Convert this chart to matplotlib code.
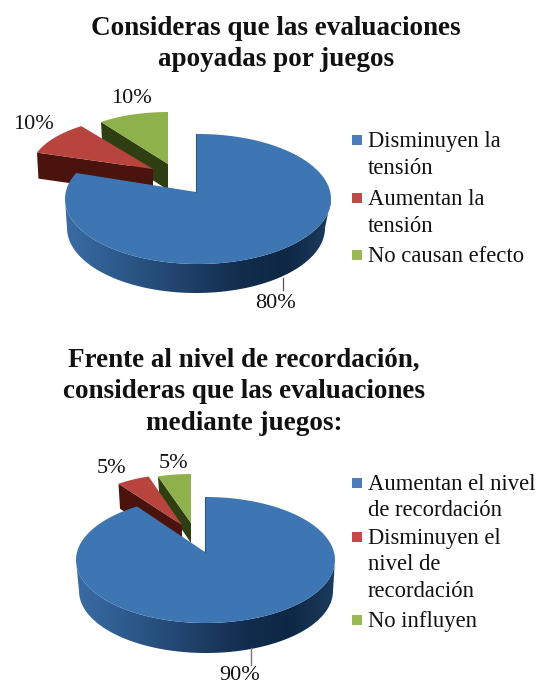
import numpy as np
import matplotlib
matplotlib.use("Agg")
import matplotlib.pyplot as plt
from matplotlib.colors import LinearSegmentedColormap
from matplotlib.patches import Polygon, Rectangle

plt.rcParams['font.family'] = ['Liberation Serif', 'DejaVu Serif']

# ---- data ----
title_a = ["Consideras que las evaluaciones", "apoyadas por juegos"]
categories_a = ["Disminuyen la\ntensión", "Aumentan la\ntensión", "No causan efecto"]
values_a = [80, 10, 10]

title_b = ["Frente al nivel de recordación,", "consideras que las evaluaciones", "mediante juegos:"]
categories_b = ["Aumentan el nivel\nde recordación", "Disminuyen el\nnivel de\nrecordación", "No influyen"]
values_b = [90, 5, 5]

# ---- style / layout ----
TOP = ['#3e76b4', '#b8443e', '#8fb14b']
SIDE = ['#1b3a60', '#4a130e', '#303f12']
LEG = ['#4a7ebb', '#be4b48', '#98b954']
GRAD = LinearSegmentedColormap.from_list(
    'g', ['#3a6ca3', '#2f5d90', '#264d7a', '#1c3c62', '#122c4d', '#0e2745', '#1c3c5e'])

W, H = 537, 685
fig = plt.figure(figsize=(W / 100, H / 100), dpi=100)
ax = fig.add_axes([0, 0, 1, 1])
ax.set_axis_off()


def main_arc(tip, c, rx, ry, a0, a1):
    out = []
    for t in np.linspace(a0, a1, 240):
        dx, dy = rx * np.sin(t), -ry * np.cos(t)
        ox, oy = tip[0] - c[0], tip[1] - c[1]
        A = (dx / rx) ** 2 + (dy / ry) ** 2
        B = 2 * (ox * dx / rx ** 2 + oy * dy / ry ** 2)
        C = (ox / rx) ** 2 + (oy / ry) ** 2 - 1
        s = (-B + np.sqrt(B * B - 4 * A * C)) / (2 * A)
        out.append((tip[0] + s * dx, tip[1] + s * dy))
    return np.array(out)


def pie3d(values, main, small):
    shares = np.cumsum([0] + list(values)) / sum(values) * 2 * np.pi
    for i in (2, 1):
        g = small[i]
        t = np.linspace(shares[i], shares[i + 1], 40)
        arc = np.c_[g['tip'][0] + g['rx'] * np.sin(t), g['tip'][1] - g['ry'] * np.cos(t)]
        d = g['depth']
        side = np.array([arc[0], g['tip'], (g['tip'][0], g['tip'][1] + d),
                         (arc[0][0] + 1.5, arc[0][1] + d)])
        ax.add_patch(Polygon(side, fc=SIDE[i], ec='none', zorder=2 + (2 - i)))
        ax.add_patch(Polygon(np.vstack([[g['tip']], arc]), fc=TOP[i], ec='none', zorder=2.5 + (2 - i)))

    c, rx, ry = main['c'], main['rx'], main['ry']
    bc, brx, bry = main['bc'], main['brx'], main['bry']
    t = np.linspace(np.pi / 2, 3 * np.pi / 2, 120)
    upper = np.c_[c[0] + rx * np.sin(t), c[1] - ry * np.cos(t)]
    lower = np.c_[bc[0] + brx * np.sin(t), bc[1] - bry * np.cos(t)]
    wall = np.vstack([upper, lower[::-1]])
    poly = Polygon(wall, fc='none', ec='none', zorder=5)
    ax.add_patch(poly)
    x0, x1 = wall[:, 0].min(), wall[:, 0].max()
    y0, y1 = wall[:, 1].min(), wall[:, 1].max()
    im = ax.imshow(np.linspace(0, 1, 256)[None, :], cmap=GRAD, vmin=0, vmax=1,
                   extent=(x0, x1, y1, y0), aspect='auto', zorder=5)
    im.set_clip_path(poly)

    arc = main_arc(main['tip'], c, rx, ry, shares[0], shares[1])
    ax.add_patch(Polygon(np.vstack([[main['tip']], arc]), fc=TOP[0], ec='none', zorder=6))
    ax.plot([arc[0][0], main['tip'][0]], [arc[0][1], main['tip'][1]],
            color='#2c5480', lw=0.8, zorder=6.5)


def label(x, y, s, size=16, **kw):
    ax.text(x, y, s, ha='center', va='center', fontsize=size, color='#111111', **kw)


def legend(cats, x_box, x_text, ys, line_h):
    for i, (cat, y) in enumerate(zip(cats, ys)):
        ax.add_patch(Rectangle((x_box, y - 5), 10, 10, fc=LEG[i], ec='none', zorder=8))
        for k, ln in enumerate(cat.split('\n')):
            ax.text(x_text, y + 1.5 + k * line_h, ln, ha='left', va='center',
                    fontsize=16.3, color='#111111')


# ---- first chart ----
for y, s in zip([28, 59], title_a):
    label(276, y, s, size=19.5, fontweight='bold')
pie3d(values_a,
      dict(tip=(196, 192), c=(198, 199), rx=133, ry=65, bc=(196, 228), brx=129, bry=65),
      {1: dict(tip=(153, 169), rx=122, ry=53, depth=26),
       2: dict(tip=(168, 164), rx=114, ry=52, depth=26)})
ax.plot([283, 283], [278, 290], color='#555555', lw=0.9, zorder=7)
label(275, 303, f"{values_a[0]}%")
label(33, 124, f"{values_a[1]}%")
label(131, 98, f"{values_a[2]}%")
legend(categories_a, 352, 368, [140, 198, 255], 27)

# ---- second chart ----
for y, s in zip([360, 391, 423], title_b):
    label(244, y, s, size=19.5, fontweight='bold')
pie3d(values_b,
      dict(tip=(205, 552), c=(205.5, 560), rx=129.5, ry=63, bc=(206, 591), brx=127, bry=62),
      {1: dict(tip=(182, 525), rx=108, ry=51, depth=25),
       2: dict(tip=(191, 523), rx=107, ry=49, depth=20)})
ax.plot([251, 251], [648, 665], color='#777777', lw=1.0, zorder=7)
label(240, 675, f"{values_b[0]}%")
label(111, 468, f"{values_b[1]}%")
label(173, 463, f"{values_b[2]}%")
legend(categories_b, 352, 368, [483, 537, 620], 26.5)

ax.set_xlim(0, W)
ax.set_ylim(H, 0)
fig.savefig('out.png', dpi=100, facecolor='white')
